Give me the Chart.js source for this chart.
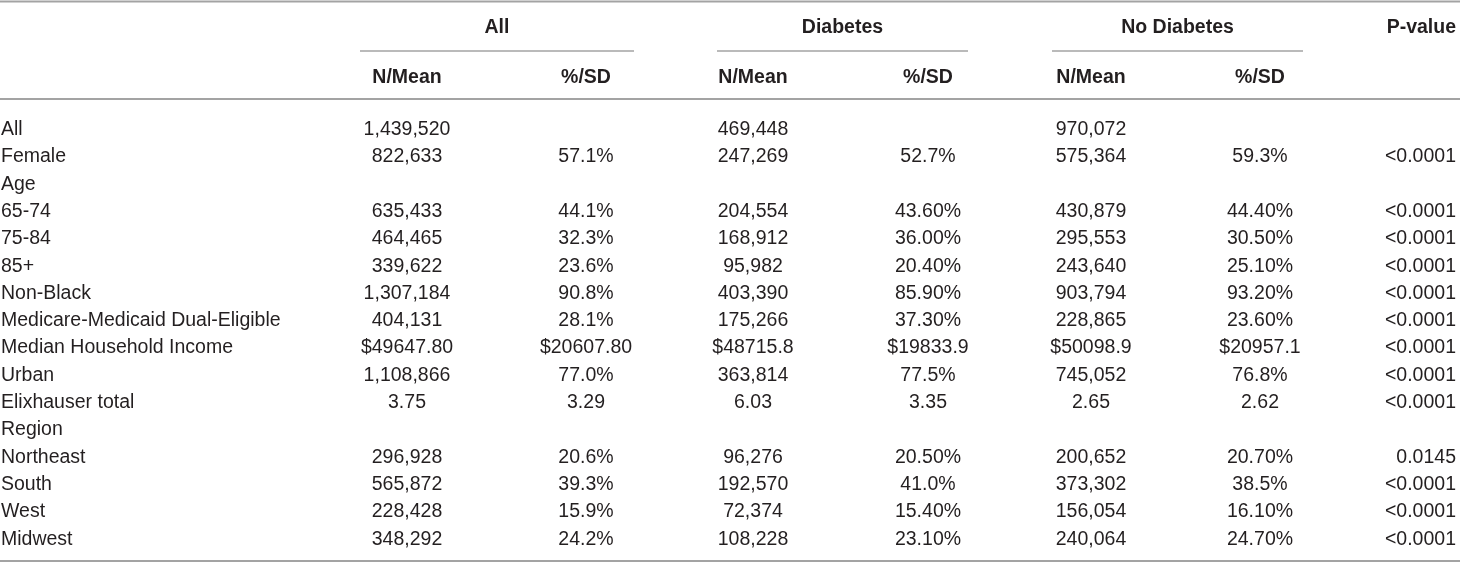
<!DOCTYPE html>
<html>
<head>
<meta charset="utf-8">
<script src="https://cdn.jsdelivr.net/npm/chart.js@4"></script>
<style>
  html, body { margin: 0; padding: 0; background: #fff; }
  #wrap { width: 1460px; height: 563px; position: relative; }
</style>
</head>
<body>
<div id="wrap"><canvas id="myChart"></canvas></div>
<script>
// table content
var rowLabels = ['All', 'Female', 'Age', '65-74', '75-84', '85+', 'Non-Black',
  'Medicare-Medicaid Dual-Eligible', 'Median Household Income', 'Urban',
  'Elixhauser total', 'Region', 'Northeast', 'South', 'West', 'Midwest'];

var allN = ['1,439,520', '822,633', '', '635,433', '464,465', '339,622', '1,307,184',
  '404,131', '$49647.80', '1,108,866', '3.75', '', '296,928', '565,872', '228,428', '348,292'];
var allPct = ['', '57.1%', '', '44.1%', '32.3%', '23.6%', '90.8%',
  '28.1%', '$20607.80', '77.0%', '3.29', '', '20.6%', '39.3%', '15.9%', '24.2%'];
var diabN = ['469,448', '247,269', '', '204,554', '168,912', '95,982', '403,390',
  '175,266', '$48715.8', '363,814', '6.03', '', '96,276', '192,570', '72,374', '108,228'];
var diabPct = ['', '52.7%', '', '43.60%', '36.00%', '20.40%', '85.90%',
  '37.30%', '$19833.9', '77.5%', '3.35', '', '20.50%', '41.0%', '15.40%', '23.10%'];
var noDiabN = ['970,072', '575,364', '', '430,879', '295,553', '243,640', '903,794',
  '228,865', '$50098.9', '745,052', '2.65', '', '200,652', '373,302', '156,054', '240,064'];
var noDiabPct = ['', '59.3%', '', '44.40%', '30.50%', '25.10%', '93.20%',
  '23.60%', '$20957.1', '76.8%', '2.62', '', '20.70%', '38.5%', '16.10%', '24.70%'];
var pValue = ['', '<0.0001', '', '<0.0001', '<0.0001', '<0.0001', '<0.0001',
  '<0.0001', '<0.0001', '<0.0001', '<0.0001', '', '0.0145', '<0.0001', '<0.0001', '<0.0001'];

var groupHeaders = ['All', 'Diabetes', 'No Diabetes'];
var subHeaders = ['N/Mean', '%/SD'];
var pHeader = 'P-value';

// layout (x in px units of the x scale, y in row units of the y scale)
var colX = { label: 1, allN: 407, allPct: 586, diabN: 753, diabPct: 928, noDiabN: 1091, noDiabPct: 1260, p: 1456 };
var groupSpan = [[360, 634], [717, 968], [1052, 1303]];
var yTopRule = -4.63, yGroup = -3.72, yUnder = -2.82, ySub = -1.9, yHeadRule = -1.06, yBottomRule = 15.86;
var FONT = '"Liberation Sans", Arial, Helvetica, sans-serif';
var TEXT = '#231f20';
var RULE = '#a3a3a3';

function col(values, x, align) {
  return {
    data: values.map(function (v, i) { return { x: x, y: i }; }),
    cells: values,
    align: align,
    pointRadius: 0,
    showLine: false
  };
}

var tablePlugin = {
  id: 'tableText',
  afterDatasetsDraw: function (chart) {
    var c = chart.ctx, xs = chart.scales.x, ys = chart.scales.y;
    c.save();
    c.fillStyle = TEXT;
    c.textBaseline = 'alphabetic';
    c.font = '19.5px ' + FONT;
    chart.data.datasets.forEach(function (ds, di) {
      var meta = chart.getDatasetMeta(di);
      c.textAlign = ds.align;
      meta.data.forEach(function (pt, i) {
        if (ds.cells[i]) c.fillText(ds.cells[i], pt.x, pt.y + 7);
      });
    });

    // rules
    c.strokeStyle = RULE;
    c.lineWidth = 2;
    [yTopRule, yHeadRule, yBottomRule].forEach(function (v) {
      var y = ys.getPixelForValue(v);
      c.beginPath(); c.moveTo(xs.left, y); c.lineTo(xs.right, y); c.stroke();
    });
    c.lineWidth = 1.6;
    groupSpan.forEach(function (s) {
      var y = ys.getPixelForValue(yUnder);
      c.beginPath(); c.moveTo(xs.getPixelForValue(s[0]), y); c.lineTo(xs.getPixelForValue(s[1]), y); c.stroke();
    });

    // headers
    c.font = 'bold 19.5px ' + FONT;
    c.textAlign = 'center';
    groupHeaders.forEach(function (h, i) {
      var mid = (groupSpan[i][0] + groupSpan[i][1]) / 2;
      c.fillText(h, xs.getPixelForValue(mid), ys.getPixelForValue(yGroup) + 7);
    });
    [[colX.allN, colX.allPct], [colX.diabN, colX.diabPct], [colX.noDiabN, colX.noDiabPct]].forEach(function (pair) {
      c.fillText(subHeaders[0], xs.getPixelForValue(pair[0]), ys.getPixelForValue(ySub) + 7);
      c.fillText(subHeaders[1], xs.getPixelForValue(pair[1]), ys.getPixelForValue(ySub) + 7);
    });
    c.textAlign = 'right';
    c.fillText(pHeader, xs.getPixelForValue(colX.p), ys.getPixelForValue(yGroup) + 7);
    c.restore();
  }
};

var ctx = document.getElementById('myChart').getContext('2d');
var myChart = new Chart(ctx, {
  type: 'scatter',
  data: {
    datasets: [
      col(rowLabels, colX.label, 'left'),
      col(allN, colX.allN, 'center'),
      col(allPct, colX.allPct, 'center'),
      col(diabN, colX.diabN, 'center'),
      col(diabPct, colX.diabPct, 'center'),
      col(noDiabN, colX.noDiabN, 'center'),
      col(noDiabPct, colX.noDiabPct, 'center'),
      col(pValue, colX.p, 'right')
    ]
  },
  options: {
    responsive: true,
    maintainAspectRatio: false,
    animation: false,
    layout: { padding: 0 },
    plugins: { legend: { display: false }, tooltip: { enabled: false } },
    scales: {
      x: { type: 'linear', min: 0, max: 1460, display: false },
      y: { type: 'linear', min: -4.689, max: 15.934, reverse: true, display: false }
    }
  },
  plugins: [tablePlugin]
});
</script>
</body>
</html>
